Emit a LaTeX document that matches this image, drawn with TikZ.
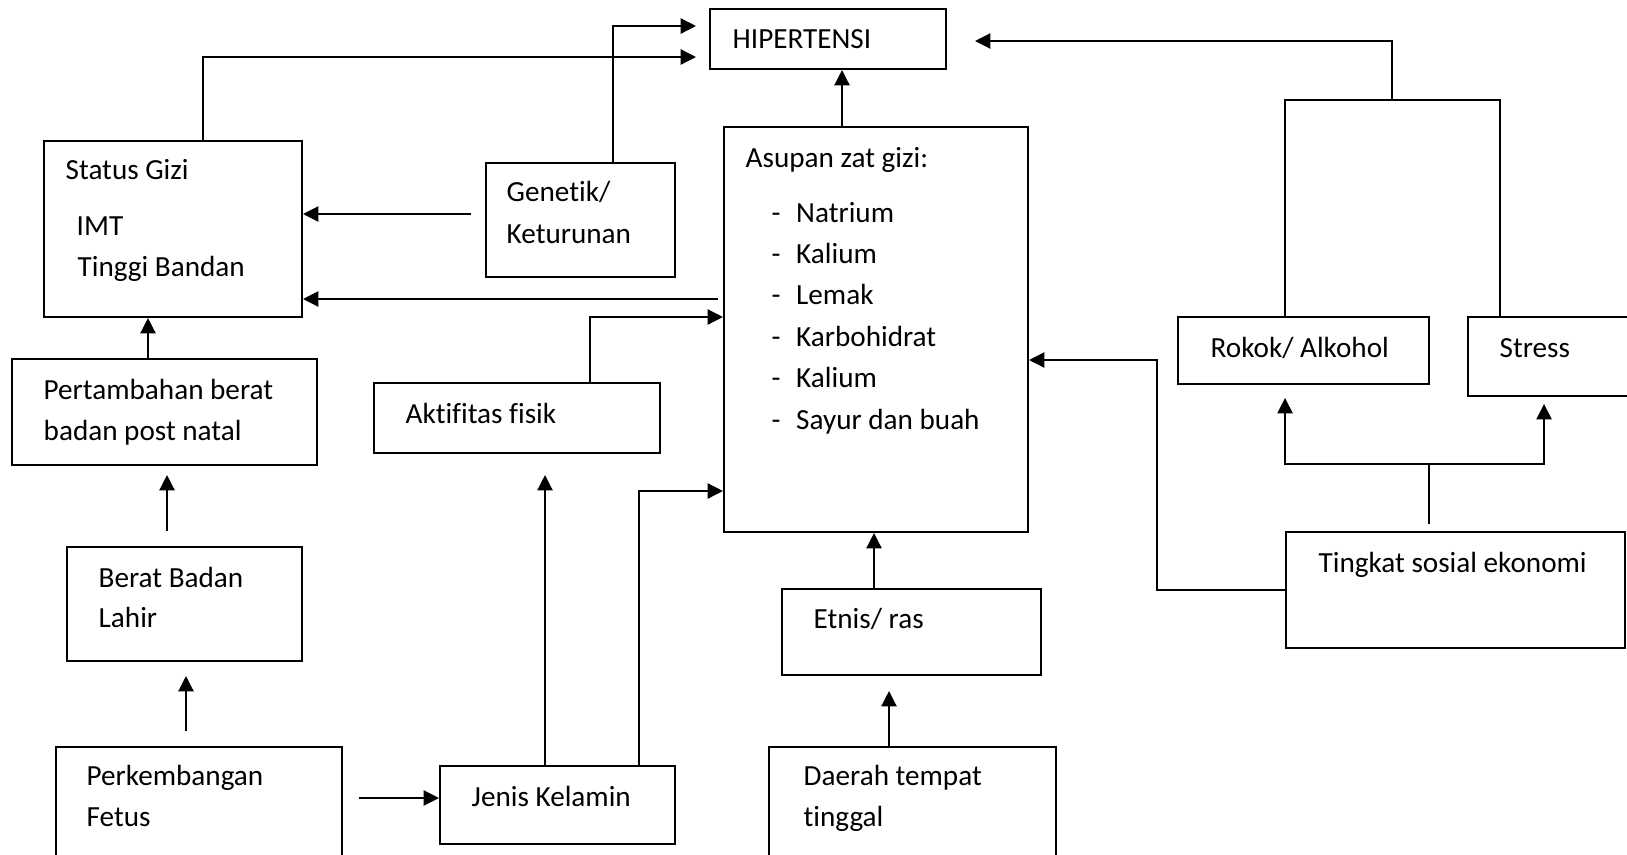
\documentclass[tikz,border=0pt]{standalone}
\usepackage{fontspec}
\setmainfont{Carlito}[Ligatures=NoCommon]
\usepackage{tikz}
\usetikzlibrary{arrows.meta,calc,fit}

\begin{document}
\begin{tikzpicture}[x=0.01cm,y=-0.01cm,
  box/.style={draw,line width=0.55pt,inner sep=0pt},
  lbl/.style={anchor=base west,inner sep=0pt,font=\fontsize{8.3}{10}\selectfont},
  arr/.style={line width=0.65pt,-{Triangle[length=4.4pt,width=4.3pt]}},
  link/.style={line width=0.65pt}]
\useasboundingbox (0,0) rectangle (1627,854);
\clip (0,0) rectangle (1627,854);

% boxes
\node[box,fit={(710,9)(946,69)}] (hip) {};
\node[box,fit={(44,141)(302,317)}] (gizi) {};
\node[box,fit={(486,163)(675,277)}] (gen) {};
\node[box,fit={(724,127)(1028,532)}] (asup) {};
\node[box,fit={(374,383)(660,453)}] (akt) {};
\node[box,fit={(12,359)(317,465)}] (pert) {};
\node[box,fit={(67,547)(302,661)}] (berat) {};
\node[box,fit={(56,747)(342,880)}] (perk) {};
\node[box,fit={(440,766)(675,844)}] (jenis) {};
\node[box,fit={(782,589)(1041,675)}] (etnis) {};
\node[box,fit={(769,747)(1056,880)}] (daerah) {};
\node[box,fit={(1286,532)(1625,648)}] (ting) {};
\node[box,fit={(1178,317)(1429,384)}] (rokok) {};
\node[box,fit={(1468,317)(1660,396)}] (stress) {};

% texts
\node[lbl] (t-hip) at (732,48) {HIPERTENSI};
\node[lbl] (t-gizi) at (65,179) {Status Gizi};
\node[lbl] (t-imt) at (76,235) {IMT};
\node[lbl] (t-tb) at (77,276) {Tinggi Bandan};
\node[lbl] (t-gen1) at (506,201) {Genetik/};
\node[lbl] (t-gen2) at (506,243) {Keturunan};
\node[lbl] (t-asup) at (745,167) {Asupan zat gizi:};
\foreach \nut [count=\i] in {Natrium,Kalium,Lemak,Karbohidrat,Kalium,Sayur dan buah}
  \node[lbl] (t-nut\i) at (771,180.6+41.4*\i) {\makebox[0.245cm][l]{-}\nut};
\node[lbl] (t-pert1) at (43,399) {Pertambahan berat};
\node[lbl] (t-pert2) at (43,440) {badan post natal};
\node[lbl] (t-akt) at (405,423) {Aktifitas fisik};
\node[lbl] (t-berat1) at (98,587) {Berat Badan};
\node[lbl] (t-berat2) at (98,627) {Lahir};
\node[lbl] (t-perk1) at (86,785) {Perkembangan};
\node[lbl] (t-perk2) at (86,826) {Fetus};
\node[lbl] (t-jenis) at (471,806) {Jenis Kelamin};
\node[lbl] (t-etnis) at (813,628) {Etnis/ ras};
\node[lbl] (t-daerah1) at (803,785) {Daerah tempat};
\node[lbl] (t-daerah2) at (803,826) {tinggal};
\node[lbl] (t-ting) at (1318,572) {Tingkat sosial ekonomi};
\node[lbl] (t-rokok) at (1210,357) {Rokok/ Alkohol};
\node[lbl] (t-stress) at (1499,357) {Stress};

% connectors to HIPERTENSI
\draw[arr] ($(gizi.north)+(30,0)$) |- ($(hip.west)+(-13,18)$);
\draw[arr] ($(gen.north)+(32.5,0)$) |- ($(hip.west)+(-13,-13)$);
\draw[arr] ($(asup.north)+(-34,0)$) -- ($(hip.south)+(14,0)$);
\coordinate (join) at (1392,100);
\draw[link] ($(rokok.north west)+(108,0)$) |- (join) -| ($(stress.north west)+(33,0)$);
\draw[arr] (join) |- ($(hip.east)+(28,2)$);

% social economy
\draw[link,line width=0.45pt] ($(ting.north)+(-26.5,-7)$) -- ++(0,-60) coordinate (fork);
\draw[arr] (fork) -| ($(rokok.south west)+(108,13)$);
\draw[arr] (fork) -| ($(stress.south west)+(77,7)$);
\draw[arr] (ting.west) -- ++(-128,0) |- ($(asup.east)+(0,30.5)$);

% left side
\draw[arr] ($(gen.west)+(-14,-6)$) -- ($(gizi.east)+(0,-15)$);
\draw[arr] ($(asup.west)+(-5,-30.5)$) -- ($(gizi.east)+(0,70)$);
\draw[arr] ($(akt.north)+(73,0)$) |- ($(asup.west)+(0,-12.5)$);
\draw[arr] ($(pert.north)+(-16.5,0)$) -- ($(gizi.south)+(-25,0)$);
\draw[arr] ($(berat.north)+(-17.5,-15)$) -- ($(pert.south)+(2.5,9)$);
\draw[arr] ($(perk.north)+(-13,-15)$) -- ($(berat.south)+(1.5,14)$);
\draw[arr] ($(perk.east)+(16,-15.5)$) -- ($(jenis.west)+(0,-7)$);
\draw[arr] ($(jenis.north)+(-12.5,0)$) -- ($(akt.south)+(28,21)$);
\draw[arr] ($(jenis.north)+(81.5,0)$) |- ($(asup.west)+(0,161.5)$);

% lower middle
\draw[arr] ($(etnis.north)+(-37.5,0)$) -- ($(asup.south)+(-2,0)$);
\draw[arr] ($(daerah.north)+(-23.5,0)$) -- ($(etnis.south)+(-22.5,15)$);
\end{tikzpicture}
\end{document}
